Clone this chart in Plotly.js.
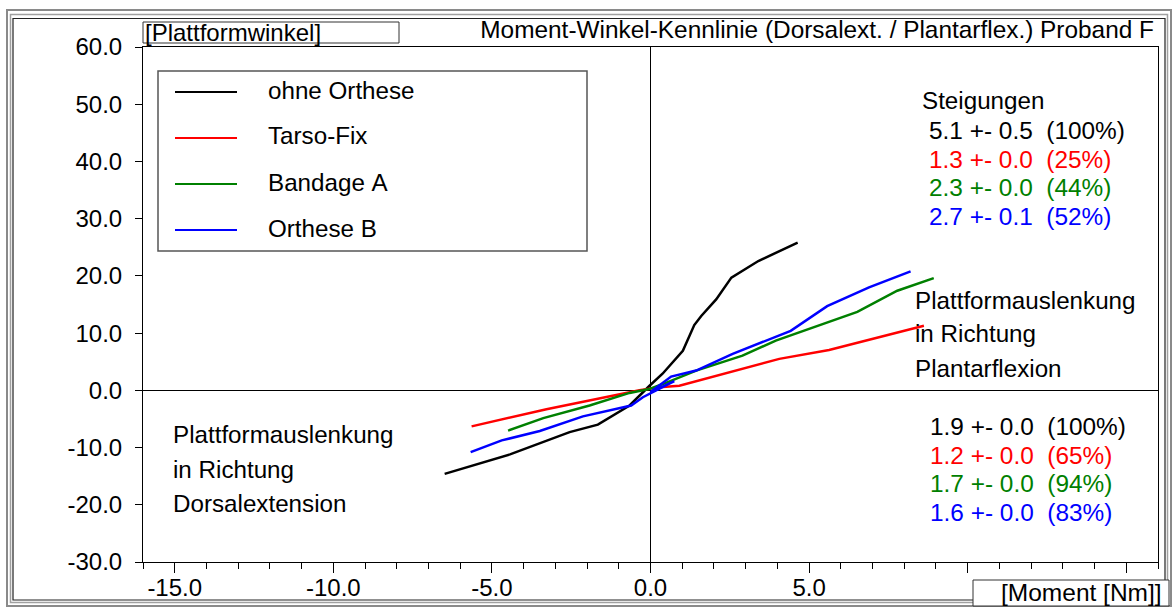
<!DOCTYPE html>
<html>
<head>
<meta charset="utf-8">
<script src="https://cdn.plot.ly/plotly-3.0.1.min.js"></script>
<style>
html,body{margin:0;padding:0;background:#fff;}
#chart{width:1174px;height:608px;}
</style>
</head>
<body>
<div id="chart"></div>
<script>
// ---- data ----
const seriesNames = ["ohne Orthese", "Tarso-Fix", "Bandage A", "Orthese B"];
const seriesColors = ["#000000", "#ff0000", "#008000", "#0000ff"];

const ohneX = [-6.49, -4.43, -2.55, -1.66, -0.66, -0.24, -0.03, 0.38, 1.02, 1.38, 1.6, 2.07, 2.55, 3.40, 4.64];
const ohneY = [-14.6, -11.2, -7.3, -6.0, -2.65, -0.3, 0.8, 2.9, 6.9, 11.4, 13.0, 15.9, 19.7, 22.6, 25.8];

const tarsoX = [-5.64, -3.28, -0.35, 0.28, 0.91, 4.06, 5.63, 8.62];
const tarsoY = [-6.3, -3.3, 0.0, 0.55, 0.8, 5.5, 7.05, 11.3];

const bandageX = [-4.49, -3.38, -1.92, -0.66, -0.24, -0.03, 0.39, 1.44, 2.9, 3.95, 6.52, 7.78, 8.93];
const bandageY = [-7.05, -4.85, -2.65, -0.45, 0.0, 0.26, 1.1, 3.45, 6.06, 8.7, 13.7, 17.4, 19.6];

const ortheseX = [-5.67, -4.69, -3.49, -2.13, -0.61, -0.24, 0.75, 0.0, 0.65, 1.44, 2.59, 4.42, 5.57, 6.89, 8.2];
const ortheseY = [-10.8, -8.75, -7.1, -4.55, -2.65, -1.2, 1.6, -0.3, 2.4, 3.45, 6.36, 10.4, 14.7, 18.0, 20.8];

const xTickVals = [-15, -10, -5, 0, 5, 10, 15];
const xTickText = ["-15.0", "-10.0", "-5.0", "0.0", "5.0", "", ""];
const yTickVals = [-30, -20, -10, 0, 10, 20, 30, 40, 50, 60];
const yTickText = ["-30.0", "-20.0", "-10.0", "0.0", "10.0", "20.0", "30.0", "40.0", "50.0", "60.0"];

const slopeTitle = "Steigungen";
const slopesPlantar = ["5.1 +- 0.5  (100%)", "1.3 +- 0.0  (25%)", "2.3 +- 0.0  (44%)", "2.7 +- 0.1  (52%)"];
const slopesDorsal = ["1.9 +- 0.0  (100%)", "1.2 +- 0.0  (65%)", "1.7 +- 0.0  (94%)", "1.6 +- 0.0  (83%)"];
const plantarLabel = ["Plattformauslenkung", "in Richtung", "Plantarflexion"];
const dorsalLabel = ["Plattformauslenkung", "in Richtung", "Dorsalextension"];

const chartTitle = "Moment-Winkel-Kennlinie (Dorsalext. / Plantarflex.) Proband F";
const yLabel = "[Plattformwinkel]";
const xLabel = "[Moment [Nm]]";

// ---- layout helpers (pixel -> paper) ----
const W = 1174, H = 608;
const L = 143, R = 16, T = 47, B = 46;
const PW = W - L - R, PH = H - T - B;
const px = v => (v - L) / PW;
const py = v => (H - B - v) / PH;
const FONT = "Liberation Sans, Arial, sans-serif";
const nb = s => s.replace(/ /g, "\u00a0");

const xs = [ohneX, tarsoX, bandageX, ortheseX];
const ys = [ohneY, tarsoY, bandageY, ortheseY];
const traces = xs.map((x, i) => ({
  type: "scatter", mode: "lines", x: x, y: ys[i], name: seriesNames[i],
  line: {color: seriesColors[i], width: 2.5}, showlegend: false, hoverinfo: "skip"
}));

const shapes = [];
const annotations = [];
function rect(x0, y0, x1, y1, color, width, fill) {
  shapes.push({type: "rect", xref: "paper", yref: "paper", x0: px(x0), x1: px(x1), y0: py(y0), y1: py(y1),
    line: {color: color, width: width}, fillcolor: fill || "rgba(0,0,0,0)", layer: "above"});
}
function text(t, x, y, color, anchor, size) {
  annotations.push({xref: "paper", yref: "paper", x: px(x), y: py(y), text: nb(t), showarrow: false,
    xanchor: anchor || "left", yanchor: "middle", font: {family: FONT, size: size || 24, color: color || "#000"}, borderpad: 0});
}

// outer double frame
rect(7, 10, 1171, 606, "#8a8a8a", 2);
rect(10.5, 14.5, 1167.5, 602.5, "#a0a0a0", 1.5);
rect(13, 18.5, 1165, 600, "#222", 1.2);

// axis label boxes
rect(143, 22, 399, 43, "#333", 1, "#fff");
text(yLabel, 144, 32.5, "#000", "left", 24);
rect(973, 580, 1169, 606, "#333", 1, "#fff");
text(xLabel, 1163, 592, "#000", "right", 24.5);

// legend
rect(158, 71, 587, 251, "#555", 1.5, "#fff");
const legY = [91, 137, 183, 229];
seriesNames.forEach((n, i) => {
  shapes.push({type: "line", xref: "paper", yref: "paper", x0: px(175), x1: px(237), y0: py(legY[i] + 1), y1: py(legY[i] + 1),
    line: {color: seriesColors[i], width: 2}, layer: "above"});
  text(n, 267, legY[i] - 1, "#000", "left", 24.2);
});

// slope text blocks
text(slopeTitle, 921, 101, "#000", "left", 24.2);
const topY = [130, 159, 188, 216];
slopesPlantar.forEach((s, i) => text(s, 928, topY[i], seriesColors[i], "left", 24.4));
const botY = [426, 455, 483.5, 512];
slopesDorsal.forEach((s, i) => text(s, 929, botY[i], seriesColors[i], "left", 24.4));

const pY = [300, 333.5, 368];
plantarLabel.forEach((s, i) => text(s, 914, pY[i], "#000", "left", 24.2));
const dY = [435, 469.5, 503.5];
dorsalLabel.forEach((s, i) => text(s, 172, dY[i], "#000", "left", 24.2));

const layout = {
  width: W, height: H,
  margin: {l: L, r: R, t: T, b: B, pad: 0},
  paper_bgcolor: "#fff", plot_bgcolor: "#fff",
  font: {family: FONT, size: 24, color: "#000"},
  title: {text: chartTitle, font: {family: FONT, size: 24.4, color: "#000"},
    xref: "paper", x: px(1154), xanchor: "right", yref: "container", y: 1 - 29 / H, yanchor: "middle"},
  xaxis: {range: [-16, 16], tickvals: xTickVals, ticktext: xTickText, ticks: "outside", ticklen: 10,
    tickcolor: "#000", tickwidth: 1, showline: true, linecolor: "#000", linewidth: 1, mirror: true,
    showgrid: false, zeroline: true, zerolinecolor: "#000", zerolinewidth: 1,
    tickfont: {family: FONT, size: 24, color: "#000"}, ticklabelstandoff: -6,
    minor: {dtick: 1, tick0: 0, ticks: "outside", ticklen: 6, tickcolor: "#000", tickwidth: 1, showgrid: false},
    fixedrange: true},
  yaxis: {range: [-30, 60], tickvals: yTickVals, ticktext: yTickText, ticks: "outside", ticklen: 7,
    tickcolor: "#000", tickwidth: 1, showline: true, linecolor: "#000", linewidth: 1, mirror: true,
    showgrid: false, zeroline: true, zerolinecolor: "#000", zerolinewidth: 1,
    tickfont: {family: FONT, size: 24, color: "#000"}, ticklabelstandoff: 8, fixedrange: true},
  shapes: shapes,
  annotations: annotations,
  showlegend: false
};

Plotly.newPlot("chart", traces, layout, {displayModeBar: false, staticPlot: true});
</script>
</body>
</html>
